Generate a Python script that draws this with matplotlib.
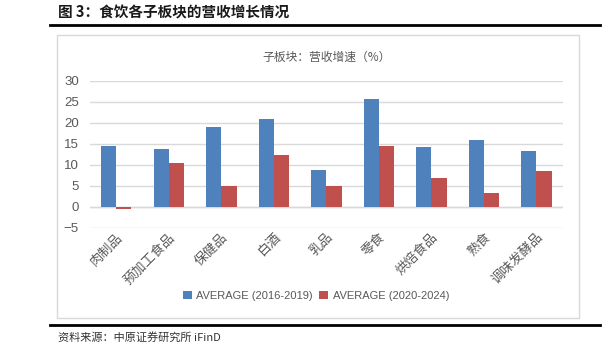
import numpy as np
import matplotlib.pyplot as plt
from matplotlib.lines import Line2D
from matplotlib.patches import Rectangle

plt.rcParams['font.family'] = ['Noto Sans CJK SC', 'DejaVu Sans']

categories = ["肉制品", "预加工食品", "保健品", "白酒", "乳品", "零食", "烘焙食品", "熟食", "调味发酵品"]
avg_2016_2019 = [14.6, 13.7, 19.0, 20.9, 8.8, 25.6, 14.3, 15.9, 13.4]
avg_2020_2024 = [-0.6, 10.5, 5.0, 12.4, 5.0, 14.5, 6.8, 3.4, 8.5]
series_names = ["AVERAGE (2016-2019)", "AVERAGE (2020-2024)"]
yticks = np.arange(-5, 31, 5)

blue = "#4F81BD"
red = "#C0504D"
grey_text = "#595959"

fig = plt.figure(figsize=(6.14, 3.48), dpi=100)
ax = fig.add_axes([90 / 614, 1 - 228 / 348, (562.7 - 90) / 614, (228 - 80.7) / 348])

x = np.arange(len(categories))
w = 0.29
ax.bar(x - w / 2, avg_2016_2019, w, color=blue, label=series_names[0], zorder=3)
ax.bar(x + w / 2, avg_2020_2024, w, color=red, label=series_names[1], zorder=3)

ax.set_xlim(-0.5, len(categories) - 0.5)
ax.set_ylim(-5, 30)
ax.set_yticks(yticks)
ax.yaxis.grid(True, color="#d9d9d9", linewidth=1, zorder=0)
ax.axhline(0, color="#d9d9d9", linewidth=1, zorder=1)
for s in ax.spines.values():
    s.set_visible(False)
ax.tick_params(axis="both", length=0)
ax.tick_params(axis="y", pad=8)
for lab in ax.get_yticklabels():
    lab.set_fontfamily("Liberation Sans")
    lab.set_fontsize(9.5)
    lab.set_color(grey_text)

ax.set_xticks(x)
ax.set_xticklabels(categories, rotation=45, ha="right", rotation_mode="anchor",
                   fontsize=9.5, color=grey_text)
ax.tick_params(axis="x", pad=2)

ax.set_title("子板块：营收增速（%）", fontsize=8.5, color=grey_text, pad=14)

leg = fig.legend(loc="center", bbox_to_anchor=(316 / 614, 1 - 296 / 348), ncol=2,
                 frameon=False, fontsize=8, handlelength=0.8, handleheight=0.8,
                 handletextpad=0.4, columnspacing=0.6)
for t in leg.get_texts():
    t.set_color(grey_text)
    t.set_fontfamily(["Liberation Sans", "DejaVu Sans"])

# chart frame
fig.patches.append(Rectangle((57 / 614, 1 - 318 / 348), (579 - 57) / 614, (318 - 35) / 348,
                             transform=fig.transFigure, fill=False,
                             edgecolor="#d9d9d9", linewidth=1))

# header and footer
fig.text(58 / 614, 1 - 12 / 348, "图 3：食饮各子板块的营收增长情况", fontsize=10.5,
         fontweight="bold", va="center", ha="left", color="#1a1a1a")
fig.lines.append(Line2D([50 / 614, 600 / 614], [1 - 25 / 348] * 2,
                        transform=fig.transFigure, color="black", linewidth=2))
fig.lines.append(Line2D([50 / 614, 600 / 614], [1 - 325 / 348] * 2,
                        transform=fig.transFigure, color="black", linewidth=2))
fig.text(58 / 614, 1 - 337 / 348, "资料来源：中原证券研究所 iFinD", fontsize=8,
         va="center", ha="left", color="#333333")

plt.savefig("out.png", dpi=100)
